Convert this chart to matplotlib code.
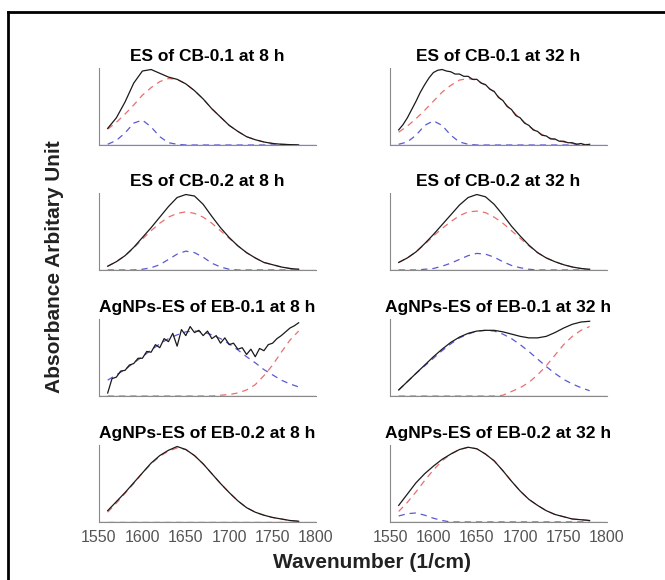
import numpy as np
import matplotlib
matplotlib.use('Agg')
import matplotlib.pyplot as plt
from matplotlib.lines import Line2D

plt.rcParams['font.family'] = ['Liberation Sans', 'DejaVu Sans']

wn = np.arange(1560, 1781, 10)      # 23 points
wn_fine = np.arange(1560, 1781, 5)  # 45 points, noisy spectra

titles = ['ES of CB-0.1 at 8 h', 'ES of CB-0.1 at 32 h',
          'ES of CB-0.2 at 8 h', 'ES of CB-0.2 at 32 h',
          'AgNPs-ES of EB-0.1 at 8 h', 'AgNPs-ES of EB-0.1 at 32 h',
          'AgNPs-ES of EB-0.2 at 8 h', 'AgNPs-ES of EB-0.2 at 32 h']
xticks = [1550, 1600, 1650, 1700, 1750, 1800]

# ES of CB-0.1 at 8 h
cb01_8_meas = [0.22, 0.36, 0.57, 0.82, 0.98, 1.0, 0.95, 0.90, 0.87, 0.81, 0.72, 0.61, 0.48,
               0.37, 0.26, 0.18, 0.11, 0.07, 0.04, 0.02, 0.01, 0.005, 0.0]
cb01_8_red = [0.21, 0.30, 0.41, 0.53, 0.66, 0.76, 0.84, 0.88, 0.87, 0.81, 0.72, 0.61, 0.48,
              0.37, 0.26, 0.18, 0.11, 0.07, 0.04, 0.02, 0.01, 0.005, 0.0]
cb01_8_blue = [0.01, 0.06, 0.16, 0.29, 0.33, 0.24, 0.11, 0.03, 0.01, 0, 0, 0, 0,
               0, 0, 0, 0, 0, 0, 0, 0, 0, 0]

# ES of CB-0.1 at 32 h
cb01_32_meas = [0.20, 0.27, 0.36, 0.47, 0.58, 0.70, 0.80, 0.89, 0.96, 0.99, 1.0, 0.98, 0.97,
                0.94, 0.94, 0.91, 0.91, 0.87, 0.87, 0.82, 0.80, 0.74, 0.71, 0.63, 0.59, 0.51,
                0.47, 0.39, 0.36, 0.29, 0.26, 0.20, 0.18, 0.13, 0.12, 0.08, 0.08, 0.05, 0.05,
                0.03, 0.03, 0.01, 0.02, 0.0, 0.01]
cb01_32_red = [0.17, 0.25, 0.35, 0.46, 0.58, 0.70, 0.79, 0.86, 0.88, 0.86, 0.79, 0.70, 0.58,
               0.46, 0.35, 0.25, 0.17, 0.11, 0.07, 0.04, 0.02, 0.01, 0.005]
cb01_32_blue = [0.01, 0.04, 0.13, 0.26, 0.32, 0.26, 0.13, 0.04, 0.01, 0, 0, 0, 0,
                0, 0, 0, 0, 0, 0, 0, 0, 0, 0]

# ES of CB-0.2 at 8 h
cb02_8_meas = [0.05, 0.11, 0.19, 0.30, 0.43, 0.56, 0.70, 0.84, 0.96, 1.0, 0.98, 0.87, 0.71,
               0.56, 0.43, 0.32, 0.23, 0.16, 0.10, 0.07, 0.04, 0.02, 0.01]
cb02_8_red = [0.05, 0.11, 0.19, 0.29, 0.41, 0.52, 0.62, 0.70, 0.75, 0.77, 0.75, 0.70, 0.62,
              0.52, 0.42, 0.32, 0.23, 0.16, 0.10, 0.07, 0.04, 0.02, 0.01]
cb02_8_blue = [0, 0, 0, 0, 0.01, 0.03, 0.07, 0.14, 0.21, 0.25, 0.23, 0.17, 0.09,
               0.04, 0.01, 0, 0, 0, 0, 0, 0, 0, 0]

# ES of CB-0.2 at 32 h
cb02_32_meas = [0.10, 0.16, 0.24, 0.35, 0.47, 0.60, 0.73, 0.86, 0.96, 1.0, 0.97, 0.87, 0.73,
                0.58, 0.45, 0.33, 0.23, 0.16, 0.11, 0.07, 0.04, 0.02, 0.01]
cb02_32_red = [0.10, 0.16, 0.24, 0.34, 0.45, 0.55, 0.64, 0.72, 0.77, 0.78, 0.76, 0.70, 0.62,
               0.52, 0.42, 0.32, 0.23, 0.16, 0.11, 0.07, 0.04, 0.02, 0.01]
cb02_32_blue = [0, 0, 0, 0.01, 0.02, 0.05, 0.09, 0.14, 0.19, 0.22, 0.21, 0.17, 0.11,
                0.06, 0.03, 0.01, 0, 0, 0, 0, 0, 0, 0]

# AgNPs-ES of EB-0.1 at 8 h
eb01_8_meas = [0.04, 0.23, 0.25, 0.33, 0.34, 0.41, 0.43, 0.50, 0.50, 0.59, 0.58, 0.68, 0.64,
               0.76, 0.72, 0.83, 0.66, 0.88, 0.80, 0.92, 0.84, 0.87, 0.80, 0.86, 0.76, 0.80,
               0.70, 0.77, 0.68, 0.70, 0.62, 0.64, 0.55, 0.62, 0.52, 0.63, 0.60, 0.68, 0.70,
               0.76, 0.80, 0.85, 0.90, 0.93, 0.97]
eb01_8_red = [0, 0, 0, 0, 0, 0, 0, 0, 0, 0, 0, 0, 0.0,
              0.01, 0.02, 0.04, 0.08, 0.15, 0.27, 0.41, 0.58, 0.74, 0.86]
eb01_8_blue = [0.21, 0.28, 0.35, 0.44, 0.52, 0.61, 0.69, 0.76, 0.81, 0.85, 0.86, 0.85, 0.81,
               0.76, 0.69, 0.61, 0.52, 0.44, 0.35, 0.28, 0.21, 0.16, 0.12]

# AgNPs-ES of EB-0.1 at 32 h
eb01_32_meas = [0.08, 0.19, 0.30, 0.41, 0.52, 0.62, 0.71, 0.78, 0.83, 0.86, 0.87, 0.87, 0.85,
                0.82, 0.79, 0.77, 0.77, 0.79, 0.84, 0.90, 0.95, 0.98, 0.99]
eb01_32_red = [0, 0, 0, 0, 0, 0, 0, 0, 0, 0, 0, 0, 0.01,
               0.06, 0.11, 0.18, 0.28, 0.40, 0.54, 0.68, 0.79, 0.87, 0.92]
eb01_32_blue = [0.08, 0.19, 0.30, 0.40, 0.50, 0.60, 0.69, 0.77, 0.82, 0.86, 0.87, 0.86, 0.82,
                0.76, 0.68, 0.59, 0.49, 0.39, 0.30, 0.22, 0.16, 0.11, 0.07]

# AgNPs-ES of EB-0.2 at 8 h
eb02_8_meas = [0.15, 0.27, 0.39, 0.52, 0.65, 0.78, 0.88, 0.95, 1.0, 0.96, 0.88, 0.77, 0.64,
               0.51, 0.39, 0.28, 0.19, 0.13, 0.09, 0.06, 0.04, 0.02, 0.01]
eb02_8_red = [0.13, 0.25, 0.38, 0.51, 0.65, 0.77, 0.87, 0.94, 0.98, 0.96, 0.88, 0.77, 0.64,
              0.51, 0.39, 0.28, 0.19, 0.13, 0.09, 0.06, 0.04, 0.02, 0.01]
eb02_8_blue = [0] * 23

# AgNPs-ES of EB-0.2 at 32 h
eb02_32_meas = [0.22, 0.37, 0.52, 0.64, 0.74, 0.83, 0.90, 0.96, 0.99, 0.97, 0.90, 0.81, 0.68,
                0.54, 0.41, 0.30, 0.22, 0.15, 0.10, 0.07, 0.04, 0.03, 0.02]
eb02_32_red = [0.14, 0.26, 0.40, 0.55, 0.69, 0.81, 0.90, 0.96, 0.99, 0.97, 0.90, 0.81, 0.68,
               0.54, 0.41, 0.30, 0.22, 0.15, 0.10, 0.07, 0.04, 0.03, 0.02]
eb02_32_blue = [0.08, 0.11, 0.12, 0.09, 0.05, 0.02, 0, 0, 0, 0, 0, 0, 0,
                0, 0, 0, 0, 0, 0, 0, 0, 0, 0]

meas = [cb01_8_meas, cb01_32_meas, cb02_8_meas, cb02_32_meas,
        eb01_8_meas, eb01_32_meas, eb02_8_meas, eb02_32_meas]
reds = [cb01_8_red, cb01_32_red, cb02_8_red, cb02_32_red,
        eb01_8_red, eb01_32_red, eb02_8_red, eb02_32_red]
blues = [cb01_8_blue, cb01_32_blue, cb02_8_blue, cb02_32_blue,
         eb01_8_blue, eb01_32_blue, eb02_8_blue, eb02_32_blue]

fig = plt.figure(figsize=(6.65, 5.8), dpi=100)

col_x = [99 / 665, 390 / 665]
ax_w = 217 / 665
row_bottom = [145, 270, 396, 522]
ax_h = 77 / 580

for i in range(8):
    r, c = i // 2, i % 2
    ax = fig.add_axes([col_x[c], 1 - row_bottom[r] / 580, ax_w, ax_h])
    m = meas[i]
    x_m = wn_fine if len(m) == len(wn_fine) else wn
    ax.axhline(0, color='#6b6bd6', lw=0.9, zorder=1)
    ax.plot(wn, reds[i], color='#e8706e', lw=0.9, ls=(0, (5, 4)), zorder=2)
    ax.plot(wn, blues[i], color='#5a5ad0', lw=0.9, ls=(0, (5, 4)), zorder=2)
    ax.plot(x_m, m, color='#1a1a1a', lw=0.9, zorder=3)
    ax.set_xlim(1550, 1800)
    ax.set_ylim(0, 1.02)
    ax.set_title(titles[i], fontsize=12.5, fontweight='bold', pad=5)
    for s in ['top', 'right']:
        ax.spines[s].set_visible(False)
    ax.spines['left'].set_color('#8a8a8a')
    ax.spines['bottom'].set_color('#8a8a8a')
    ax.set_yticks([])
    ax.set_xticks(xticks)
    ax.tick_params(axis='x', length=0, pad=6, labelsize=11.5, labelcolor='#555555')
    if r < 3:
        ax.set_xticklabels([])

fig.text(372 / 665, 1 - 563 / 580, 'Wavenumber (1/cm)', ha='center', va='center',
         fontsize=15, fontweight='bold', color='#222222')
fig.text(55 / 665, 1 - 267 / 580, 'Absorbance Arbitary Unit', ha='center', va='center',
         rotation=90, fontsize=15, fontweight='bold', color='#222222')

# frame around the figure (cropped at right and bottom)
fig.add_artist(Line2D([8 / 665, 8 / 665], [0, 1 - 12 / 580], color='black', lw=2))
fig.add_artist(Line2D([8 / 665, 1], [1 - 12 / 580, 1 - 12 / 580], color='black', lw=2))

fig.savefig('out.png', dpi=100)
